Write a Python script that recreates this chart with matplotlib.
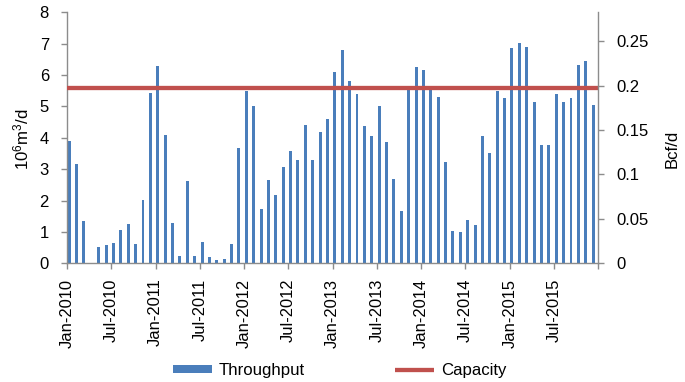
import matplotlib
matplotlib.use("Agg")
import matplotlib.pyplot as plt
from matplotlib import font_manager
from matplotlib.patches import Patch
from matplotlib.lines import Line2D

# ---------------- data ----------------
months = [f"{m}-{y}" for y in range(2010, 2016)
          for m in ["Jan", "Feb", "Mar", "Apr", "May", "Jun",
                    "Jul", "Aug", "Sep", "Oct", "Nov", "Dec"]]
throughput = [
    3.90, 3.16, 1.34, 0.00, 0.52, 0.59, 0.65, 1.06, 1.26, 0.61, 2.01, 5.44,   # 2010
    6.28, 4.09, 1.30, 0.24, 2.62, 0.24, 0.68, 0.21, 0.11, 0.15, 0.61, 3.68,   # 2011
    5.48, 5.02, 1.73, 2.67, 2.17, 3.07, 3.59, 3.28, 4.40, 3.28, 4.17, 4.59,   # 2012
    6.09, 6.80, 5.80, 5.39, 4.37, 4.06, 5.02, 3.87, 2.69, 1.67, 5.55, 6.27,   # 2013
    6.15, 5.55, 5.29, 3.23, 1.02, 0.99, 1.38, 1.22, 4.07, 3.52, 5.50, 5.28,   # 2014
    6.85, 7.02, 6.88, 5.13, 3.77, 3.77, 5.39, 5.15, 5.27, 6.32, 6.44, 5.03,   # 2015
]
capacity = 5.60
tick_labels = ["Jan-2010", "Jul-2010", "Jan-2011", "Jul-2011", "Jan-2012", "Jul-2012",
               "Jan-2013", "Jul-2013", "Jan-2014", "Jul-2014", "Jan-2015", "Jul-2015"]
left_ticks = [0, 1, 2, 3, 4, 5, 6, 7, 8]
right_ticks = [0, 0.05, 0.1, 0.15, 0.2, 0.25]
right_tick_labels = ["0", "0.05", "0.1", "0.15", "0.2", "0.25"]
bcf_per_mmcm = 0.0353147

# ---------------- fonts ----------------
avail = {f.name for f in font_manager.fontManager.ttflist}
REG = "Liberation Sans" if "Liberation Sans" in avail else "DejaVu Sans"
NARROW = "Liberation Sans Narrow" if "Liberation Sans Narrow" in avail else REG
nscale = 1.0 if NARROW != REG else 0.86

plt.rcParams["font.family"] = [REG, "DejaVu Sans"]
plt.rcParams["mathtext.fontset"] = "custom"
plt.rcParams["mathtext.rm"] = NARROW
plt.rcParams["mathtext.it"] = NARROW
plt.rcParams["mathtext.default"] = "regular"

BLUE = "#4a7ebb"
RED = "#c0504d"
GREY = "#8c8c8c"

fig = plt.figure(figsize=(6.85, 3.82), dpi=100)
ax = fig.add_axes([67 / 685, 1 - 263.3 / 382, 531.3 / 685, 251 / 382])

x = [i + 0.3 for i in range(len(throughput))]
ax.bar(x, throughput, width=0.4, color=BLUE, align="center", zorder=2)
ax.axhline(capacity, color=RED, linewidth=3.1, solid_capstyle="butt", zorder=3)

ax.set_xlim(0, 72)
ax.set_ylim(0, 8)
ax.set_yticks(left_ticks)
ax.set_yticklabels([str(v) for v in left_ticks], fontsize=12, family=REG)
ax.set_xticks(list(range(0, 73, 6)))
ax.set_xticklabels(tick_labels + [""], rotation=90, fontsize=13.8 * nscale,
                   family=NARROW, ha="center", va="top")

for s in ["top"]:
    ax.spines[s].set_visible(False)
ax.spines["right"].set_visible(False)
for s in ["left", "bottom"]:
    ax.spines[s].set_color(GREY)
    ax.spines[s].set_linewidth(1.0)
ax.tick_params(axis="y", direction="out", length=4, width=1.0, color=GREY, pad=9)
ax.tick_params(axis="x", direction="out", length=4, width=1.0, color=GREY, pad=7)

ax2 = ax.twinx()
ax2.set_ylim(0, 8 * bcf_per_mmcm)
ax2.set_yticks(right_ticks)
ax2.set_yticklabels(right_tick_labels, fontsize=12, family=REG)
for s in ["top", "left", "bottom"]:
    ax2.spines[s].set_visible(False)
ax2.spines["right"].set_color(GREY)
ax2.spines["right"].set_linewidth(1.0)
ax2.tick_params(axis="y", direction="out", length=4, width=1.0, color=GREY, pad=9)

fig.text(21 / 685, 1 - 139.5 / 382, r"10$^{6}$m$^{3}$/d", rotation=90,
         ha="center", va="center", fontsize=14 * nscale, family=NARROW)
fig.text(672 / 685, 1 - 149 / 382, "Bcf/d", rotation=90,
         ha="center", va="center", fontsize=14 * nscale, family=NARROW)

handles = [Patch(facecolor=BLUE, edgecolor="none"),
           Line2D([0], [0], color=RED, linewidth=3.1, solid_capstyle="butt")]
fig.legend(handles, ["Throughput", "Capacity"], loc="center",
           bbox_to_anchor=(339.4 / 685, 1 - 370.7 / 382), ncol=2, frameon=False,
           prop={"family": NARROW, "size": 14 * nscale},
           handlelength=2.35, handleheight=0.37, handletextpad=0.4,
           columnspacing=5.4, borderaxespad=0, borderpad=0)

fig.savefig("out.png", dpi=100)
